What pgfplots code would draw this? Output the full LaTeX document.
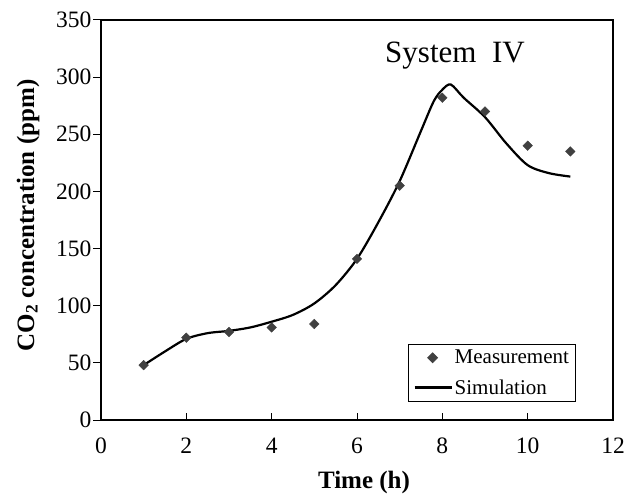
\documentclass[border=0pt]{standalone}
\usepackage{fontspec}
\setmainfont{Liberation Serif}
\usepackage{pgfplots}
\pgfplotsset{compat=1.18}
\definecolor{mk}{HTML}{404040}
\pgfplotsset{
  mkleg/.style={legend image code/.code={\draw[##1] plot coordinates {(18pt,0pt)};}},
  lnleg/.style={legend image code/.code={\draw[##1] (0pt,0pt) -- (37pt,0pt);}},
}
\begin{document}
\begin{tikzpicture}
\useasboundingbox (-101pt,-73pt) rectangle (536pt,420pt);
\begin{axis}[
  scale only axis,
  width=512pt, height=400pt,
  xmin=0, xmax=12, ymin=0, ymax=350,
  xtick={0,2,...,12}, ytick={0,50,...,350},
  xtick pos=bottom, ytick pos=left,
  xtick align=inside, ytick align=outside,
  major tick length=7.5pt,
  axis line style={line width=1.3pt},
  every tick/.style={black, line width=1pt},
  /pgf/number format/assume math mode=true,
  tick label style={font=\fontsize{23.5}{27}\selectfont},
  xticklabel style={anchor=base, yshift=-33pt},
  yticklabel style={anchor=east, inner sep=0pt, xshift=-2pt},
  xlabel={\textbf{Time (h)}},
  ylabel={\textbf{CO$_\mathbf{2}$ concentration (ppm)}},
  label style={font=\fontsize{25}{28}\selectfont},
  xlabel style={at={(axis description cs:0.5,0)}, anchor=base, yshift=-68pt, xshift=7pt},
  ylabel style={at={(axis description cs:0,0.5)}, anchor=center, yshift=73pt, xshift=4.5pt},
  legend style={at={(rel axis cs:0.5996,0.045)}, anchor=south west,
    draw=black, line width=1pt, font=\fontsize{21}{24}\selectfont,
    row sep=10pt, inner xsep=5pt, inner ysep=4pt},
  legend cell align=left,
]
\addplot[only marks, mark=square*, mark size=3.4pt, mark options={rotate=45, fill=mk, draw=mk}, mkleg]
  coordinates {(1,48) (2,72) (3,77) (4,81) (5,84) (6,141) (7,205) (8,282) (9,270) (10,240) (11,235)};
\addlegendentry{Measurement}
\addplot[black, line width=2.2pt, smooth, tension=0.5, lnleg]
  coordinates {(1,48) (1.5,60) (2,71) (2.5,76) (3,78) (3.5,81) (4,86) (4.5,92) (5,102) (5.5,118) (6,141) (6.5,173) (7,209) (7.5,253) (7.8,279) (8,289) (8.2,293.5) (8.5,282) (9,265) (9.5,242) (10,223) (10.5,216) (11,213)};
\addlegendentry{Simulation}
\node[anchor=base west, font=\fontsize{31}{34}\selectfont, inner sep=0pt] at (rel axis cs:0.5547,0.8925) {System\ \ IV};
\end{axis}
\end{tikzpicture}
\end{document}
